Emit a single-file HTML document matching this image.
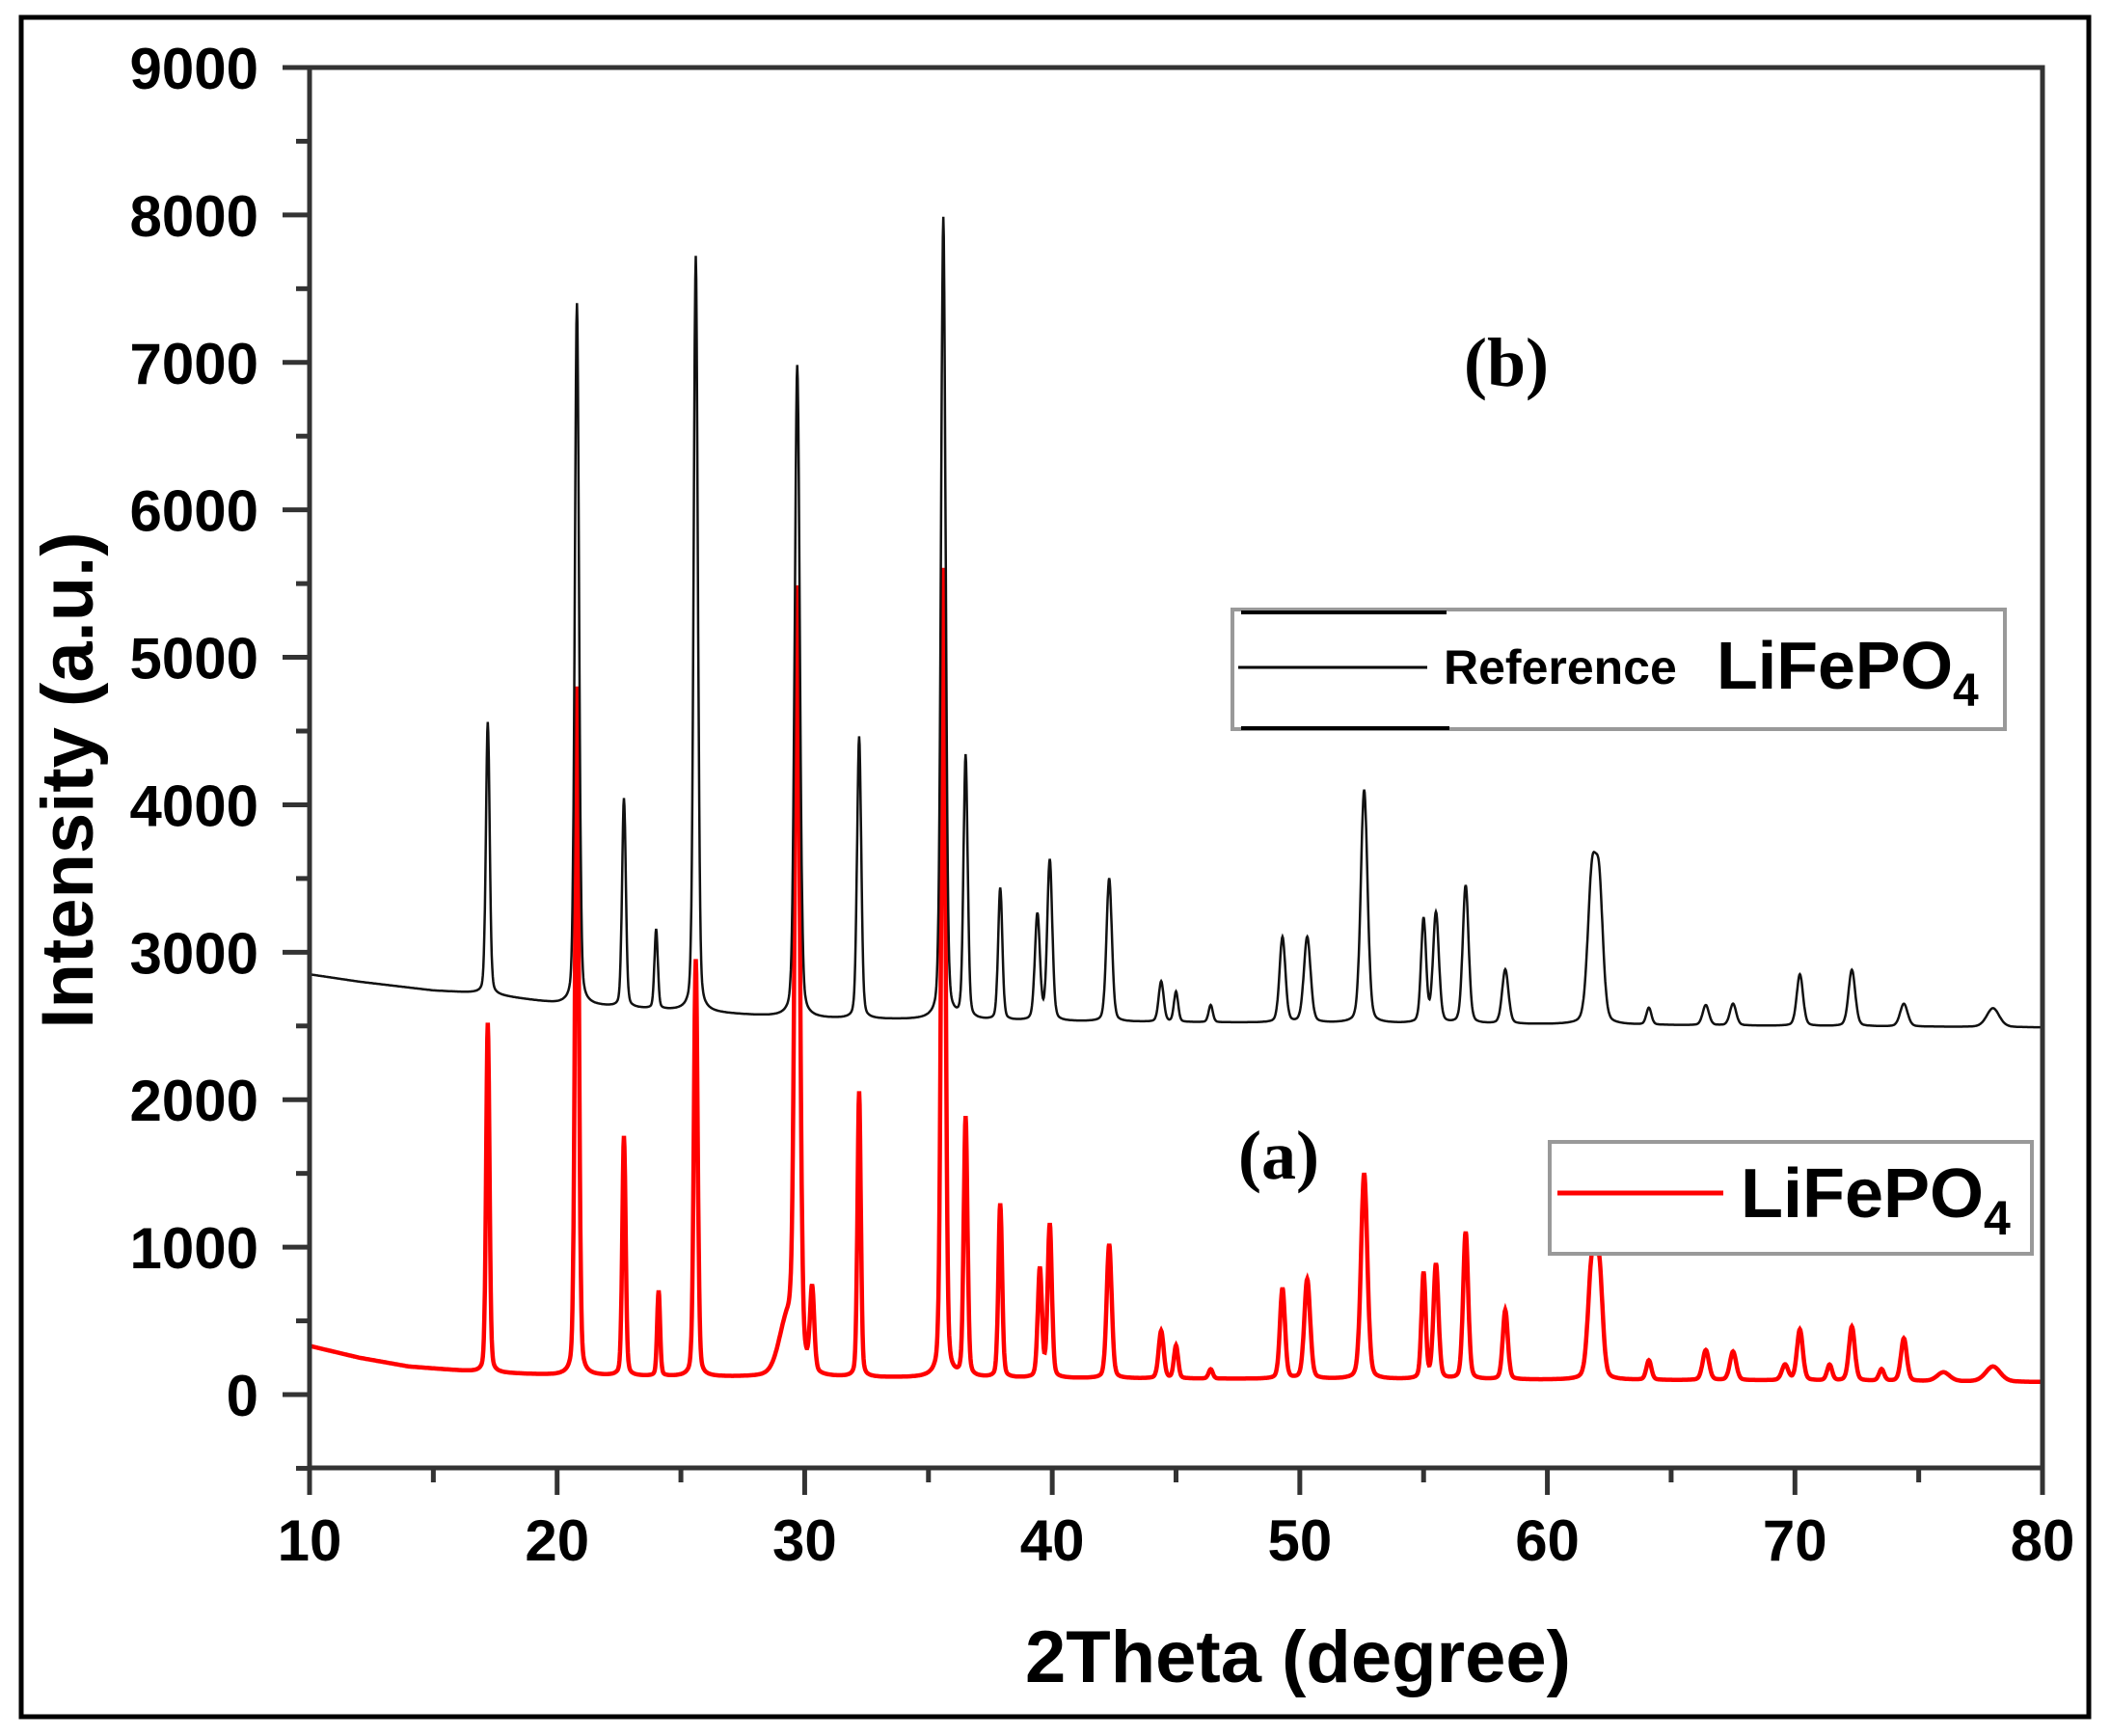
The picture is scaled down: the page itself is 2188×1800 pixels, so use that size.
<!DOCTYPE html>
<html><head><meta charset="utf-8"><style>
html,body{margin:0;padding:0;background:#fff;}
svg{display:block;}
text{font-family:"Liberation Sans",Arial,sans-serif;}
</style></head><body>
<svg id="chart" width="2188" height="1800" viewBox="0 0 2188 1800" xmlns="http://www.w3.org/2000/svg">
<rect x="22" y="18" width="2144" height="1762" fill="#fff" stroke="#000" stroke-width="5"/>
<g id="series"></g>
<g id="axes"></g>
<text x="1562" y="400" font-weight="bold" font-size="72" text-anchor="middle" style="font-family:'Liberation Serif',serif">(b)</text>
<text x="1326" y="1222" font-weight="bold" font-size="72" text-anchor="middle" style="font-family:'Liberation Serif',serif">(a)</text>
<g>
<rect x="1278" y="632" width="801" height="124" fill="#fff" stroke="#999" stroke-width="4"/>
<line x1="1287" y1="635" x2="1500" y2="635" stroke="#000" stroke-width="4"/>
<line x1="1287" y1="755" x2="1503" y2="755" stroke="#000" stroke-width="4"/>
<line x1="1284" y1="692" x2="1480" y2="692" stroke="#000" stroke-width="3"/>
<text x="1497" y="709" font-weight="bold" font-size="50">Reference</text>
<text x="1780" y="714" font-weight="bold" font-size="70">LiFePO<tspan font-size="48" dy="18">4</tspan></text>
</g>
<g>
<rect x="1607" y="1184" width="500" height="116" fill="#fff" stroke="#999" stroke-width="4"/>
<line x1="1615" y1="1237" x2="1787" y2="1237" stroke="#f00" stroke-width="5"/>
<text x="1805" y="1262" font-weight="bold" font-size="72">LiFePO<tspan font-size="50" dy="18">4</tspan></text>
</g>
<text x="1346" y="1744" font-weight="bold" font-size="76" text-anchor="middle">2Theta (degree)</text>
<text transform="translate(96,809) rotate(-90)" font-weight="bold" font-size="76" text-anchor="middle">Intensity (a.u.)</text>
</svg>
<script>
// ---- data ----
const xTicks = [10,20,30,40,50,60,70,80];
const yTicks = [0,1000,2000,3000,4000,5000,6000,7000,8000,9000];
// red sample (a): background points and peaks (position, total intensity)
const bgAx = [10,12,14,17,20,25,30,40,50,60,70,80];
const bgAy = [330,250,190,150,130,120,115,110,105,100,95,85];
const peakApos = [17.2,20.8,22.7,24.1,25.6,29.3,29.7,30.3,32.2,35.6,36.5,37.9,39.5,39.9,42.3,44.4,45.0,46.4,49.3,50.3,52.6,55.0,55.5,56.7,58.3,61.8,62.1,64.1,66.4,67.5,69.6,70.2,71.4,72.3,73.5,74.4,76.0,78.0];
const peakAval = [2520,4800,1750,700,2950,480,5300,680,2050,5600,1870,1290,850,1150,1020,430,330,170,720,780,1500,820,880,1100,570,880,800,230,300,290,200,440,200,460,170,380,150,190];
const peakAwid = [0.08,0.09,0.08,0.07,0.09,0.4,0.12,0.1,0.08,0.1,0.09,0.09,0.1,0.1,0.12,0.12,0.1,0.1,0.12,0.14,0.15,0.1,0.12,0.12,0.12,0.18,0.16,0.12,0.15,0.15,0.15,0.14,0.12,0.14,0.12,0.14,0.3,0.35];
// black reference (b)
const bgBx = [10,12,15,17,20,25,30,40,50,60,70,80];
const bgBy = [2850,2800,2740,2720,2650,2600,2550,2530,2520,2510,2500,2490];
const peakBpos = [17.2,20.8,22.7,24.0,25.6,29.7,32.2,35.6,36.5,37.9,39.4,39.9,42.3,44.4,45.0,46.4,49.3,50.3,52.6,55.0,55.5,56.7,58.3,61.8,62.1,64.1,66.4,67.5,70.2,72.3,74.4,78.0];
const peakBval = [4560,7400,4040,3150,7720,6980,4460,7980,4320,3430,3250,3620,3500,2800,2730,2640,3100,3100,4100,3220,3260,3450,2880,3480,3350,2620,2640,2650,2850,2880,2650,2620];
const peakBwid = [0.09,0.1,0.09,0.08,0.1,0.12,0.1,0.11,0.1,0.1,0.12,0.12,0.13,0.12,0.1,0.1,0.14,0.16,0.16,0.12,0.14,0.14,0.15,0.2,0.18,0.12,0.15,0.15,0.15,0.16,0.18,0.3];

// ---- axes functions ----
const X0=321, X1=2118, Y0=1446, YTOP=70;
const sx = v => X0 + (v-10)/(80-10)*(X1-X0);
const sy = v => Y0 - v/9000*(Y0-YTOP);
const NS='http://www.w3.org/2000/svg';
function interp(xs,ys,x){for(let i=0;i<xs.length-1;i++){if(x<=xs[i+1]){const t=(x-xs[i])/(xs[i+1]-xs[i]);return ys[i]+t*(ys[i+1]-ys[i]);}}return ys[ys.length-1];}
function shape(u){return 0.25/(1+u*u)+0.75*Math.exp(-0.693*u*u);}
function profile(bx,by,pos,val,wid){
  const amps = pos.map((p,i)=>val[i]-interp(bx,by,p));
  let d='';
  for(let k=0;k<=3500;k++){
    const x=10+k*0.02;
    let y=interp(bx,by,x);
    for(let i=0;i<pos.length;i++){const u=(x-pos[i])/wid[i];y+=amps[i]*shape(u);}
    d+=(k?'L':'M')+sx(x).toFixed(1)+' '+sy(y).toFixed(1);
  }
  return d;
}
const gs=document.getElementById('series');
const pb=document.createElementNS(NS,'path');


pb.setAttribute('d',profile(bgBx,bgBy,peakBpos,peakBval,peakBwid));
pb.setAttribute('fill','none');pb.setAttribute('stroke','#111');pb.setAttribute('stroke-width','2.5');
const pa=document.createElementNS(NS,'path');


pa.setAttribute('d',profile(bgAx,bgAy,peakApos,peakAval,peakAwid));
pa.setAttribute('fill','none');pa.setAttribute('stroke','#f00');pa.setAttribute('stroke-width','4.5');
gs.appendChild(pa);gs.appendChild(pb);

const ga=document.getElementById('axes');
const YB=1522;
function ln(x1,y1,x2,y2,w,name){const l=document.createElementNS(NS,'line');l.setAttribute('x1',x1);l.setAttribute('y1',y1);l.setAttribute('x2',x2);l.setAttribute('y2',y2);l.setAttribute('stroke','#333');l.setAttribute('stroke-width',w);


ga.appendChild(l);}
function tx(x,y,s,anchor,name){const t=document.createElementNS(NS,'text');t.setAttribute('x',x);t.setAttribute('y',y);t.setAttribute('font-size','60');t.setAttribute('font-weight','bold');t.setAttribute('text-anchor',anchor);t.textContent=s;


ga.appendChild(t);}
const fr=document.createElementNS(NS,'rect');
fr.setAttribute('x',X0);fr.setAttribute('y',YTOP);fr.setAttribute('width',X1-X0);fr.setAttribute('height',YB-YTOP);
fr.setAttribute('fill','none');fr.setAttribute('stroke','#333');fr.setAttribute('stroke-width','5');


ga.appendChild(fr);
for(let v=-500;v<=9000;v+=500){const y=sy(v);const major=(v%1000===0);ln(X0,y,X0-(major?28:14),y,5,'y-tick');}
yTicks.forEach(v=>tx(268,sy(v)+22,String(v),'end','y-tick-label'));
for(let v=10;v<=80;v+=5){const x=sx(v);const major=(v%10===0);ln(x,YB,x,YB+(major?28:15),5,'x-tick');}
xTicks.forEach(v=>tx(sx(v),1618,String(v),'middle','x-tick-label'));
</script>
</body></html>
